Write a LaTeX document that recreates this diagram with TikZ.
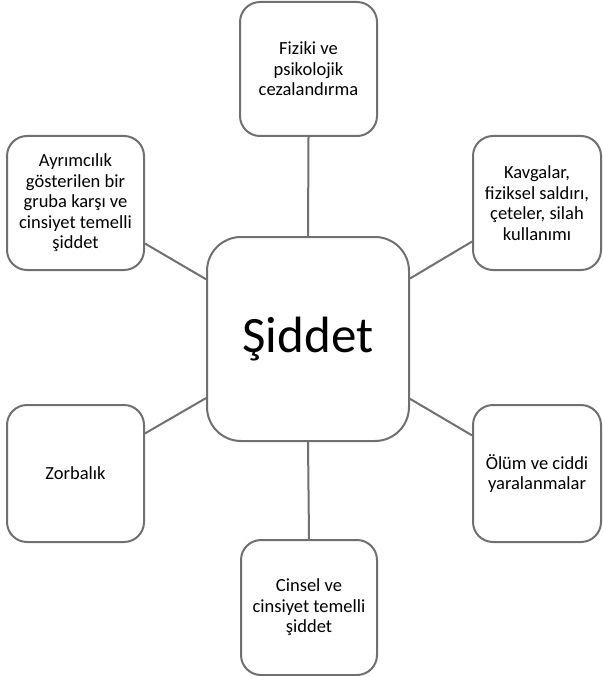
\documentclass[tikz,border=0pt]{standalone}
\usepackage{fontspec}
\setmainfont{Carlito}
\definecolor{edgegray}{RGB}{112,112,112}
\tikzset{
  box/.style={draw=edgegray, line width=2pt, rounded corners=20pt, fill=white,
    align=center, inner sep=0pt, font=\fontsize{18.5}{20.5}\selectfont},
  hub/.style={box, rounded corners=34pt, font=\fontsize{51}{56}\selectfont},
  link/.style={draw=edgegray, line width=2pt}
}
\begin{document}
\begin{tikzpicture}[x=1pt,y=-1pt]
\useasboundingbox (0,0) rectangle (602,676);
\node[hub, minimum width=202pt, minimum height=204pt] (c) at (308,339) {Şiddet};
\node[box, minimum width=137pt, minimum height=134pt] (t) at (308.5,69) {Fiziki ve\\psikolojik\\cezalandırma};
\node[box, minimum width=137pt, minimum height=134pt] (lt) at (75.5,203) {Ayrımcılık\\gösterilen bir\\gruba karşı ve\\cinsiyet temelli\\şiddet};
\node[box, minimum width=128pt, minimum height=134pt] (rt) at (537,203) {Kavgalar,\\fiziksel saldırı,\\çeteler, silah\\kullanımı};
\node[box, minimum width=137pt, minimum height=137pt] (lb) at (75.5,473.5) {Zorbalık};
\node[box, minimum width=128pt, minimum height=137pt] (rb) at (537,473.5) {Ölüm ve ciddi\\yaralanmalar};
\node[box, minimum width=136pt, minimum height=135pt] (b) at (309,607.5) {Cinsel ve\\cinsiyet temelli\\şiddet};
\draw[link] (c) -- (lt);
\draw[link] (c) -- (rt);
\draw[link] (c) -- (lb);
\draw[link] (c) -- (rb);
\draw[link] (c.south) -- (b.north);
\draw[link] (c.north) -- (t.south);
\end{tikzpicture}
\end{document}
